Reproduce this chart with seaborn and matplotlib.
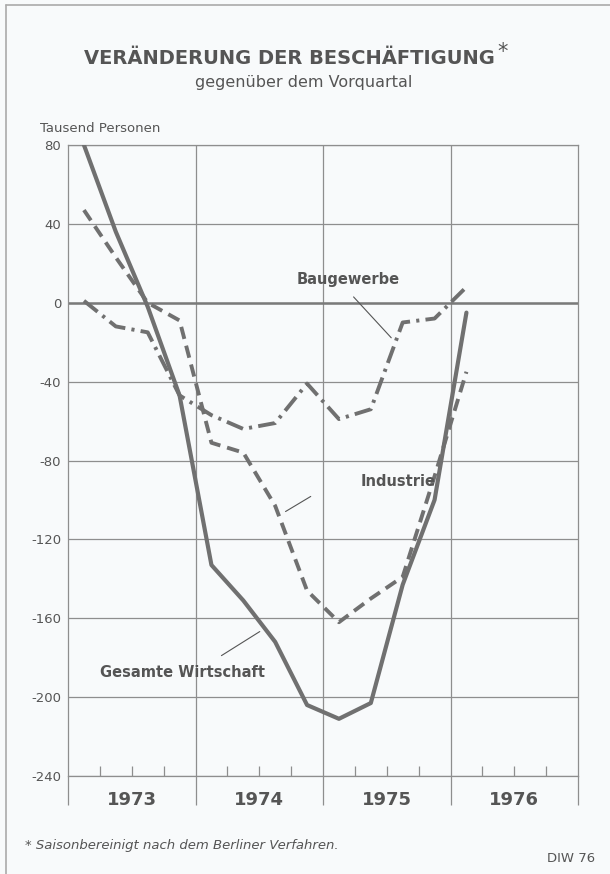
import numpy as np
import pandas as pd
import matplotlib
matplotlib.use("Agg")
import matplotlib.pyplot as plt
import seaborn as sns
from matplotlib.lines import Line2D
from matplotlib.transforms import blended_transform_factory

# quarterly values, 1973 Q1 .. 1976 Q1 (Tausend Personen)
quarters = ["1973Q1", "1973Q2", "1973Q3", "1973Q4",
            "1974Q1", "1974Q2", "1974Q3", "1974Q4",
            "1975Q1", "1975Q2", "1975Q3", "1975Q4", "1976Q1"]
gesamt = [80, 36, -2, -47, -133, -151, -172, -204, -211, -203, -143, -100, -5]
industrie = [47, 23, 0, -9, -71, -76, -103, -146, -162, -150, -139, -88, -35]
bau = [1, -12, -15, -47, -57, -64, -61, -41, -59, -54, -10, -8, 8]
years = ["1973", "1974", "1975", "1976"]
yticks = [80, 40, 0, -40, -80, -120, -160, -200, -240]

df = pd.DataFrame({"quarter": quarters, "Gesamte Wirtschaft": gesamt,
                   "Industrie": industrie, "Baugewerbe": bau})
df["pos"] = np.arange(len(df)) + 0.5

sns.set_style("white")
plt.rcParams["font.family"] = ["DejaVu Sans"]

bg = "#f8fafb"
linec = "#707070"
gridc = "#8e8e8e"
textc = "#555555"

fig = plt.figure(figsize=(6.1, 8.74), dpi=100, facecolor=bg)
ax = fig.add_axes([68 / 610, (874 - 776) / 874, 510 / 610, 631 / 874])
ax.set_facecolor(bg)

# grid
ax.set_xlim(0, 16)
ax.set_ylim(-240, 80)
for v in [4, 8, 12]:
    ax.axvline(v, color=gridc, lw=0.9, zorder=1)
for v in yticks:
    ax.axhline(v, color=gridc, lw=0.9, zorder=1)
ax.axhline(0, color="#7a7a7a", lw=1.8, zorder=1)

sns.lineplot(data=df, x="pos", y="Gesamte Wirtschaft", ax=ax, color=linec,
             lw=3.0, zorder=3)
sns.lineplot(data=df, x="pos", y="Industrie", ax=ax, color=linec,
             lw=2.8, linestyle=(0, (3.2, 1.8)), zorder=3)
sns.lineplot(data=df, x="pos", y="Baugewerbe", ax=ax, color=linec,
             lw=2.8, linestyle=(0, (4.5, 1.6, 0.8, 1.6)), zorder=3)

for s in ax.spines.values():
    s.set_color(gridc)
    s.set_linewidth(0.9)

ax.set_xlabel("")
ax.set_ylabel("")
ax.set_yticks(yticks)
ax.set_yticklabels([str(v) for v in yticks], fontsize=9.5, color=textc)
ax.tick_params(axis="y", length=0, pad=5)

ax.set_xticks([0, 4, 8, 12, 16])
ax.set_xticklabels([])
ax.set_xticks([1, 2, 3, 5, 6, 7, 9, 10, 11, 13, 14, 15], minor=True)
ax.tick_params(axis="x", which="major", direction="out", length=21,
               width=0.9, color=gridc, bottom=True)
ax.tick_params(axis="x", which="minor", direction="in", length=7,
               width=0.9, color=gridc, bottom=True)

tr = blended_transform_factory(ax.transData, ax.transAxes)
for i, y in enumerate(years):
    ax.text(4 * i + 2, -0.038, y, transform=tr, ha="center", va="center",
            fontsize=13, fontweight="bold", color=textc)

# series labels with leader lines
lab = dict(fontsize=10.5, fontweight="bold", color=textc,
           family=["Liberation Sans Narrow", "DejaVu Sans"])
ax.annotate("", xy=(10.2, -18.8), xytext=(8.9, 4),
            arrowprops=dict(arrowstyle="-", color=textc, lw=0.8))
ax.text(8.78, 11.7, "Baugewerbe", ha="center", va="center", **lab)
ax.annotate("", xy=(6.75, -106.6), xytext=(7.69, -97.5),
            arrowprops=dict(arrowstyle="-", color=textc, lw=0.8))
ax.text(10.35, -90.9, "Industrie", ha="center", va="center", **lab)
ax.annotate("", xy=(6.09, -166), xytext=(4.74, -179.7),
            arrowprops=dict(arrowstyle="-", color=textc, lw=0.8))
ax.text(3.6, -187.3, "Gesamte Wirtschaft", ha="center", va="center", **lab)

# titles and notes
fig.text(289 / 610, 1 - 58 / 874, "VERÄNDERUNG DER BESCHÄFTIGUNG",
         ha="center", va="center", fontsize=14, fontweight="bold", color=textc)
fig.text(503 / 610, 1 - 52 / 874, "*", ha="center", va="center",
         fontsize=15, color=textc)
fig.text(304 / 610, 1 - 83 / 874, "gegenüber dem Vorquartal",
         ha="center", va="center", fontsize=11.5, color=textc)
fig.text(40 / 610, 1 - 128 / 874, "Tausend Personen",
         ha="left", va="center", fontsize=9.5, color=textc)
fig.text(25 / 610, 1 - 846 / 874, "* Saisonbereinigt nach dem Berliner Verfahren.",
         ha="left", va="center", fontsize=9.5, style="italic", color=textc)
fig.text(595 / 610, 1 - 858 / 874, "DIW 76",
         ha="right", va="center", fontsize=9.5, color=textc)

# outer frame (left and top edges)
fig.add_artist(Line2D([6 / 610, 6 / 610], [0, 1 - 5 / 874], color="#aaaaaa",
                      lw=1.2, transform=fig.transFigure))
fig.add_artist(Line2D([6 / 610, 1], [1 - 5 / 874, 1 - 5 / 874], color="#aaaaaa",
                      lw=1.2, transform=fig.transFigure))

fig.savefig("out.png", dpi=100, facecolor=bg)
